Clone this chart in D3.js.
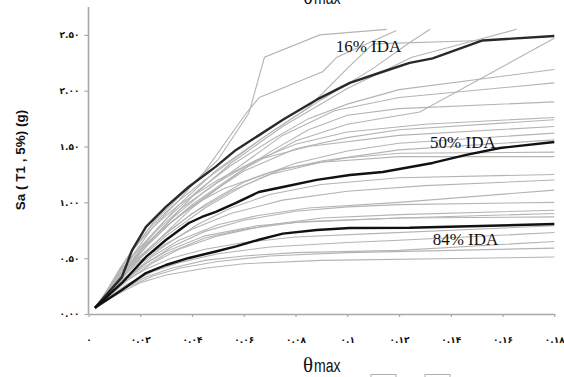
<!DOCTYPE html>
<html>
<head>
<meta charset="utf-8">
<script src="https://cdn.jsdelivr.net/npm/d3@7/dist/d3.min.js"></script>
<style>
  html, body { margin: 0; padding: 0; background: #fff; }
  svg { display: block; }
  .tick text { font-family: "DejaVu Sans", sans-serif; font-weight: bold; fill: #111; }
</style>
</head>
<body>
<svg id="chart" width="564" height="377"></svg>
<script>
// Axis ticks and labels (Persian digits)
const xTicks = [0, 0.02, 0.04, 0.06, 0.08, 0.1, 0.12, 0.14, 0.16, 0.18];
const xTickLabels = ["۰", "۰.۰۲", "۰.۰۴", "۰.۰۶", "۰.۰۸", "۰.۱", "۰.۱۲", "۰.۱۴", "۰.۱۶", "۰.۱۸"];
const yTicks = [0, 0.5, 1.0, 1.5, 2.0, 2.5];
const yTickLabels = ["۰.۰۰", "۰.۵۰", "۱.۰۰", "۱.۵۰", "۲.۰۰", "۲.۵۰"];

// Fractile IDA curves: [theta_max, Sa(T1,5%)]
const ida16 = [[0.0025,0.055],[0.0129,0.33],[0.0168,0.57],[0.0222,0.78],[0.0299,0.96],[0.0388,1.14],[0.0492,1.32],[0.057,1.47],[0.0658,1.60],[0.0751,1.74],[0.0882,1.92],[0.101,2.07],[0.1137,2.17],[0.1241,2.25],[0.133,2.29],[0.1523,2.45],[0.18,2.49]];
const ida50 = [[0.0025,0.055],[0.0129,0.278],[0.0222,0.511],[0.0299,0.663],[0.0388,0.815],[0.0438,0.869],[0.0492,0.914],[0.057,0.995],[0.0658,1.093],[0.0751,1.138],[0.0882,1.201],[0.101,1.245],[0.1137,1.272],[0.133,1.353],[0.146,1.425],[0.159,1.487],[0.18,1.541]];
const ida84 = [[0.0025,0.055],[0.0129,0.215],[0.0222,0.367],[0.0299,0.439],[0.0388,0.502],[0.0492,0.56],[0.057,0.605],[0.0658,0.665],[0.0751,0.72],[0.0882,0.752],[0.101,0.77],[0.124,0.772],[0.18,0.806]];
const fractileLabels = ["16% IDA", "50% IDA", "84% IDA"];

// Single-record IDA curves
const records = [
  [[0.0025,0.055],[0.008,0.22],[0.015,0.5],[0.025,0.82],[0.035,1.05],[0.05,1.38],[0.062,1.80],[0.068,2.30],[0.0894,2.50],[0.1152,2.55]],
  [[0.0025,0.055],[0.008,0.2],[0.015,0.46],[0.025,0.78],[0.035,1.02],[0.045,1.28],[0.061,1.80],[0.066,1.94],[0.0905,2.17],[0.096,2.30],[0.119,2.54]],
  [[0.0025,0.055],[0.008,0.19],[0.015,0.43],[0.025,0.72],[0.035,0.98],[0.05,1.3],[0.07,1.62],[0.09,1.92],[0.11,2.2],[0.124,2.43],[0.132,2.55]],
  [[0.0025,0.055],[0.008,0.18],[0.015,0.4],[0.025,0.68],[0.04,1.05],[0.055,1.35],[0.075,1.68],[0.1,2.02],[0.125,2.3],[0.146,2.43],[0.1655,2.55]],
  [[0.0025,0.055],[0.008,0.17],[0.015,0.38],[0.025,0.62],[0.04,0.95],[0.06,1.3],[0.08,1.55],[0.1,1.70],[0.128,1.81],[0.18,2.47]],
  [[0.0025,0.055],[0.007,0.2],[0.012,0.38],[0.02,0.6],[0.03,0.85],[0.042,1.1],[0.055,1.33],[0.07,1.55],[0.085,1.75],[0.1,1.88],[0.12,2.01],[0.18,2.19]],
  [[0.0025,0.055],[0.008,0.21],[0.014,0.4],[0.022,0.62],[0.032,0.85],[0.045,1.1],[0.06,1.35],[0.075,1.6],[0.095,1.82],[0.12,1.94],[0.18,2.07]],
  [[0.0025,0.055],[0.007,0.18],[0.013,0.36],[0.02,0.55],[0.03,0.78],[0.04,0.98],[0.055,1.22],[0.07,1.45],[0.085,1.65],[0.1,1.78],[0.12,1.84],[0.18,1.90]],
  [[0.0025,0.055],[0.008,0.2],[0.015,0.42],[0.022,0.6],[0.032,0.82],[0.045,1.05],[0.06,1.28],[0.08,1.48],[0.1,1.58],[0.12,1.65],[0.18,1.74]],
  [[0.0025,0.055],[0.006,0.17],[0.012,0.4],[0.018,0.6],[0.025,0.78],[0.035,0.98],[0.05,1.2],[0.065,1.38],[0.085,1.5],[0.12,1.60],[0.18,1.68]],
  [[0.0025,0.055],[0.008,0.19],[0.014,0.37],[0.022,0.56],[0.032,0.76],[0.045,0.98],[0.06,1.18],[0.08,1.35],[0.1,1.46],[0.12,1.53],[0.18,1.62]],
  [[0.0025,0.055],[0.007,0.16],[0.013,0.33],[0.02,0.5],[0.03,0.7],[0.045,0.95],[0.06,1.15],[0.075,1.3],[0.1,1.4],[0.12,1.44],[0.18,1.45]],
  [[0.0025,0.055],[0.008,0.2],[0.013,0.36],[0.02,0.52],[0.03,0.72],[0.04,0.9],[0.055,1.1],[0.07,1.25],[0.09,1.36],[0.12,1.41],[0.18,1.41]],
  [[0.0025,0.055],[0.007,0.15],[0.012,0.28],[0.02,0.45],[0.03,0.62],[0.042,0.8],[0.055,0.95],[0.07,1.07],[0.09,1.16],[0.12,1.22],[0.18,1.25]],
  [[0.0025,0.055],[0.008,0.17],[0.015,0.33],[0.025,0.52],[0.035,0.66],[0.05,0.8],[0.065,0.88],[0.085,0.95],[0.12,1.0],[0.18,1.11]],
  [[0.0025,0.055],[0.007,0.15],[0.014,0.3],[0.022,0.45],[0.032,0.6],[0.045,0.74],[0.06,0.84],[0.08,0.92],[0.1,0.96],[0.12,0.98],[0.18,1.0]],
  [[0.0025,0.055],[0.008,0.16],[0.015,0.3],[0.025,0.46],[0.035,0.58],[0.05,0.7],[0.07,0.8],[0.09,0.86],[0.12,0.89],[0.18,0.93]],
  [[0.0025,0.055],[0.006,0.13],[0.012,0.26],[0.02,0.4],[0.03,0.54],[0.045,0.68],[0.06,0.76],[0.08,0.82],[0.12,0.86],[0.18,0.87]],
  [[0.0025,0.055],[0.008,0.15],[0.015,0.27],[0.025,0.38],[0.035,0.46],[0.05,0.54],[0.07,0.6],[0.1,0.64],[0.12,0.66],[0.18,0.73]],
  [[0.0025,0.055],[0.007,0.13],[0.014,0.24],[0.022,0.33],[0.032,0.41],[0.045,0.48],[0.06,0.52],[0.08,0.55],[0.12,0.57],[0.18,0.65]],
  [[0.0025,0.055],[0.008,0.14],[0.015,0.24],[0.025,0.34],[0.035,0.41],[0.05,0.47],[0.07,0.52],[0.1,0.55],[0.18,0.59]],
  [[0.0025,0.055],[0.007,0.12],[0.013,0.2],[0.02,0.28],[0.03,0.35],[0.045,0.41],[0.06,0.45],[0.09,0.48],[0.18,0.51]],
  [[0.0025,0.055],[0.007,0.19],[0.012,0.36],[0.018,0.54],[0.026,0.74],[0.036,0.95],[0.05,1.18],[0.065,1.38],[0.08,1.52],[0.1,1.63],[0.13,1.7],[0.18,1.76]],
  [[0.0025,0.055],[0.008,0.2],[0.014,0.4],[0.02,0.57],[0.028,0.75],[0.04,0.97],[0.052,1.12],[0.07,1.27],[0.09,1.37],[0.12,1.47],[0.18,1.56]],
  [[0.0025,0.055],[0.007,0.16],[0.012,0.3],[0.02,0.48],[0.03,0.63],[0.04,0.76],[0.055,0.9],[0.075,1.02],[0.1,1.1],[0.13,1.15],[0.18,1.2]],
  [[0.0025,0.055],[0.006,0.14],[0.012,0.27],[0.02,0.42],[0.03,0.56],[0.045,0.7],[0.065,0.79],[0.085,0.83],[0.12,0.86],[0.18,0.9]],
  [[0.0025,0.055],[0.008,0.17],[0.014,0.29],[0.022,0.4],[0.032,0.5],[0.045,0.58],[0.06,0.64],[0.08,0.69],[0.11,0.72],[0.18,0.79]],
  [[0.0025,0.055],[0.007,0.2],[0.012,0.4],[0.017,0.58],[0.024,0.78],[0.033,0.98],[0.045,1.2],[0.058,1.42],[0.07,1.62],[0.085,1.85],[0.1,2.2],[0.11,2.42],[0.1523,2.45],[0.18,2.49]]
];

const svg = d3.select("#chart");
const x = d3.scaleLinear().domain([0, 0.18]).range([88.5, 554.3]);
const y = d3.scaleLinear().domain([0, 2.75]).range([314, 7]);
const line = d3.line().x(d => x(d[0])).y(d => y(d[1]));

// Axes
const xAxis = d3.axisBottom(x)
  .tickValues(xTicks)
  .tickFormat((d, i) => xTickLabels[i])
  .tickSize(3).tickSizeOuter(0).tickPadding(20);
const yAxis = d3.axisLeft(y)
  .tickValues(yTicks)
  .tickFormat((d, i) => yTickLabels[i])
  .tickSize(4).tickSizeOuter(0).tickPadding(5);

const gx = svg.append("g").attr("transform", "translate(0,314)").call(xAxis);
const gy = svg.append("g").attr("transform", "translate(88.5,0)").call(yAxis);
gy.select(".domain").attr("d", `M0,${y(2.75)}V${y(0)}`);
[gx, gy].forEach(g => {
  g.select(".domain").attr("stroke", "#a8a8a8").attr("stroke-width", 1.6);
  g.selectAll(".tick line").attr("stroke", "#a8a8a8").attr("stroke-width", 1.2);
  g.selectAll(".tick text").attr("font-size", 9);
});

// Individual record curves
svg.append("g")
  .selectAll("path")
  .data(records)
  .join("path")
  .attr("d", line)
  .attr("fill", "none")
  .attr("stroke", "#b4b4b4")
  .attr("stroke-width", 1.1);

// Fractile curves
const fractiles = [
  { pts: ida16, color: "#2a2a2a" },
  { pts: ida50, color: "#111" },
  { pts: ida84, color: "#111" }
];
svg.append("g")
  .selectAll("path")
  .data(fractiles)
  .join("path")
  .attr("d", d => line(d.pts))
  .attr("fill", "none")
  .attr("stroke", d => d.color)
  .attr("stroke-width", 2.4)
  .attr("stroke-linejoin", "round");

// Fractile labels
const labelPos = [[0.0955, 2.35], [0.132, 1.49], [0.133, 0.62]];
svg.append("g")
  .selectAll("text")
  .data(fractileLabels)
  .join("text")
  .attr("x", (d, i) => x(labelPos[i][0]))
  .attr("y", (d, i) => y(labelPos[i][1]))
  .attr("font-family", "'Liberation Serif', 'Times New Roman', serif")
  .attr("font-size", 17)
  .attr("fill", "#111")
  .text(d => d);

// Axis titles
function thetaTitle(cx, base) {
  const g = svg.append("g").attr("transform", `translate(${cx},${base})`);
  g.append("text")
    .attr("x", -21).attr("y", 0)
    .attr("font-family", "'Liberation Serif', serif")
    .attr("font-size", 21)
    .attr("fill", "#111")
    .text("θ");
  g.append("text")
    .attr("transform", "translate(-10,0) scale(0.78,1)")
    .attr("font-family", "'Liberation Sans', Arial, sans-serif")
    .attr("font-size", 18)
    .attr("fill", "#111")
    .text("max");
}
thetaTitle(324, 4);
thetaTitle(324, 372);

svg.append("text")
  .attr("transform", "translate(25,160) rotate(-90)")
  .attr("text-anchor", "middle")
  .attr("font-family", "'Liberation Sans', Arial, sans-serif")
  .attr("font-weight", "bold")
  .attr("font-size", 13.5)
  .attr("fill", "#111")
  .text("Sa ( T1 , 5%) (g)");

// Partial legend boxes at the lower edge
svg.append("g")
  .selectAll("rect")
  .data([[371, 25], [425, 25]])
  .join("rect")
  .attr("x", d => d[0]).attr("y", 374.5)
  .attr("width", d => d[1]).attr("height", 8)
  .attr("fill", "none")
  .attr("stroke", "#b0b0b0")
  .attr("stroke-width", 1);
</script>
</body>
</html>
